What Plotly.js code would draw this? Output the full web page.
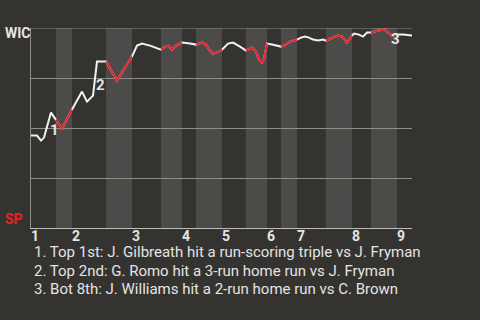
<!DOCTYPE html>
<html>
<head>
<meta charset="utf-8">
<script src="https://cdn.plot.ly/plotly-3.0.1.min.js"></script>
<style>
  html, body { margin: 0; padding: 0; background: #353330; }
  #chart { width: 480px; height: 320px; }
</style>
</head>
<body>
<div id="chart"></div>
<script>
// Game clock (minutes since first pitch) and WIC win probability (%) after each play
const gameMinute = [0, 3, 5, 6.5, 10, 11, 12.5, 15.5, 20.5, 25.5,
  28, 31, 33, 37.5, 43, 50.5, 53, 55.5, 59.5, 62.5,
  65, 66.5, 68.5, 70.5, 72.5, 74.5, 75.5, 79.5, 82.5, 85.5,
  87.5, 89.5, 91, 94, 95.5, 98.5, 101, 104.5, 107.5, 110.5,
  112.5, 114, 115.5, 116.5, 118, 120.5, 123, 125, 127, 129.5,
  133, 135, 137, 139, 141, 143.5, 146, 147.5, 151, 153.5,
  155.5, 158, 160.5, 161.5, 164, 166, 168, 170, 173.5, 177,
  178, 180.5, 183, 186, 190.5];
const wicWinPct = [46.2, 46.2, 43.7, 45.2, 57.7, 56.2, 54.2, 49.7, 59.2, 68.2,
  63.2, 66.2, 83.2, 83.2, 73.7, 85.7, 91.2, 92.2, 91.2, 90.0,
  89.2, 90.2, 91.2, 89.2, 91.2, 92.2, 92.7, 92.2, 91.7, 92.7,
  91.7, 88.7, 87.2, 88.2, 89.2, 92.2, 92.7, 90.7, 88.7, 90.2,
  88.2, 84.2, 82.7, 84.7, 92.2, 91.7, 91.2, 90.7, 91.7, 93.2,
  94.2, 95.2, 95.7, 95.2, 94.2, 93.7, 94.2, 93.7, 95.2, 96.2,
  95.7, 92.7, 96.2, 97.2, 96.7, 95.7, 97.7, 97.7, 98.7, 99.2,
  98.2, 96.2, 96.7, 96.7, 96.2];

// Inning structure on the same clock
const inningLabels = ['1', '2', '3', '4', '5', '6', '7', '8', '9'];
const inningStart = [0, 20.5, 50.5, 75.5, 95.5, 118, 133, 160.5, 183];
const bottomHalfStart = [12.5, 37.5, 65, 82.5, 107.5, 125, 147.5, 170];
const gameEnd = 190.5;

// Key plays
const keyPlayMinute = [6.5, 31, 177];
const keyPlayTag = ['1', '2', '3'];
const keyPlayText = [
  '1. Top 1st: J. Gilbreath hit a run-scoring triple vs J. Fryman',
  '2. Top 2nd: G. Romo hit a 3-run home run vs J. Fryman',
  '3. Bot 8th: J. Williams hit a 2-run home run vs C. Brown'
];

const BG = '#353330';
const BAND = '#4c4b49';
const GRID = '#8e8d8a';
const TXT = '#e4e4e4';
const RED = '#e8202a';
const WHITE = '#f2f2f2';

const bottomHalfEnd = inningStart.slice(1);

// Red copy of the line restricted to bottom halves, broken between halves
const redX = [], redY = [];
bottomHalfStart.forEach((s, k) => {
  const e = bottomHalfEnd[k];
  gameMinute.forEach((m, i) => {
    if (m >= s && m <= e) { redX.push(m); redY.push(wicWinPct[i]); }
  });
  redX.push(null); redY.push(null);
});

const traces = [
  { x: gameMinute, y: wicWinPct, type: 'scatter', mode: 'lines',
    line: { color: WHITE, width: 2 }, hoverinfo: 'skip' },
  { x: redX, y: redY, type: 'scatter', mode: 'lines', connectgaps: false,
    line: { color: RED, width: 2 }, hoverinfo: 'skip' }
];

const shapes = bottomHalfStart.map((s, k) => ({
  type: 'rect', xref: 'x', yref: 'paper', x0: s, x1: bottomHalfEnd[k], y0: 0, y1: 1,
  fillcolor: BAND, line: { width: 0 }, layer: 'below'
}));
// top boundary line of the plotting area
shapes.push({
  type: 'line', xref: 'paper', yref: 'y', x0: 0, x1: 1, y0: 100, y1: 100,
  line: { color: GRID, width: 1 }, layer: 'below'
});

const tagShift = [[10, 8], [7.5, 10.5], [10, -9]];
const annotations = keyPlayMinute.map((m, k) => ({
  x: m, y: wicWinPct[gameMinute.indexOf(m)], xref: 'x', yref: 'y',
  text: keyPlayTag[k], showarrow: false, xanchor: 'center', yanchor: 'middle',
  xshift: tagShift[k][0], yshift: tagShift[k][1],
  font: { family: 'Roboto', size: 15, color: TXT, weight: 'bold' }
}));

annotations.push({
  xref: 'paper', yref: 'paper', x: 0, y: 1, xshift: -28, yshift: -5,
  xanchor: 'left', yanchor: 'middle', showarrow: false, text: 'WIC',
  font: { family: 'Roboto', size: 14, color: TXT, weight: 'bold' }
});
annotations.push({
  xref: 'paper', yref: 'paper', x: 0, y: 0, xshift: -28, yshift: 9,
  xanchor: 'left', yanchor: 'middle', showarrow: false, text: 'SP',
  font: { family: 'Roboto', size: 14, color: RED, weight: 'bold' }
});

const footY = [-0.12, -0.213, -0.305];
keyPlayText.forEach((t, k) => {
  annotations.push({
    xref: 'paper', yref: 'paper', x: 0, y: footY[k], xshift: 1,
    xanchor: 'left', yanchor: 'middle', showarrow: false, text: t,
    font: { family: 'Roboto', size: 15, color: TXT }
  });
});

const layout = {
  width: 480, height: 320,
  margin: { l: 31, r: 68, t: 28, b: 92 },
  paper_bgcolor: BG, plot_bgcolor: BG,
  showlegend: false,
  xaxis: {
    range: [0, gameEnd], showgrid: false, zeroline: false,
    showline: true, linecolor: '#bdbcb9', linewidth: 1,
    tickvals: inningStart, ticktext: inningLabels, ticks: '',
    ticklabelshift: 4, ticklabelstandoff: -5,
    tickfont: { family: 'Roboto', size: 14, color: TXT, weight: 'bold' }
  },
  yaxis: {
    range: [0, 100], tickvals: [0, 25, 50, 75, 100], showticklabels: false,
    showgrid: true, gridcolor: GRID, gridwidth: 1, zeroline: false,
    showline: true, linecolor: GRID, linewidth: 1, ticks: ''
  },
  shapes: shapes,
  annotations: annotations
};

Plotly.newPlot('chart', traces, layout, { staticPlot: true, displayModeBar: false });
</script>
</body>
</html>
